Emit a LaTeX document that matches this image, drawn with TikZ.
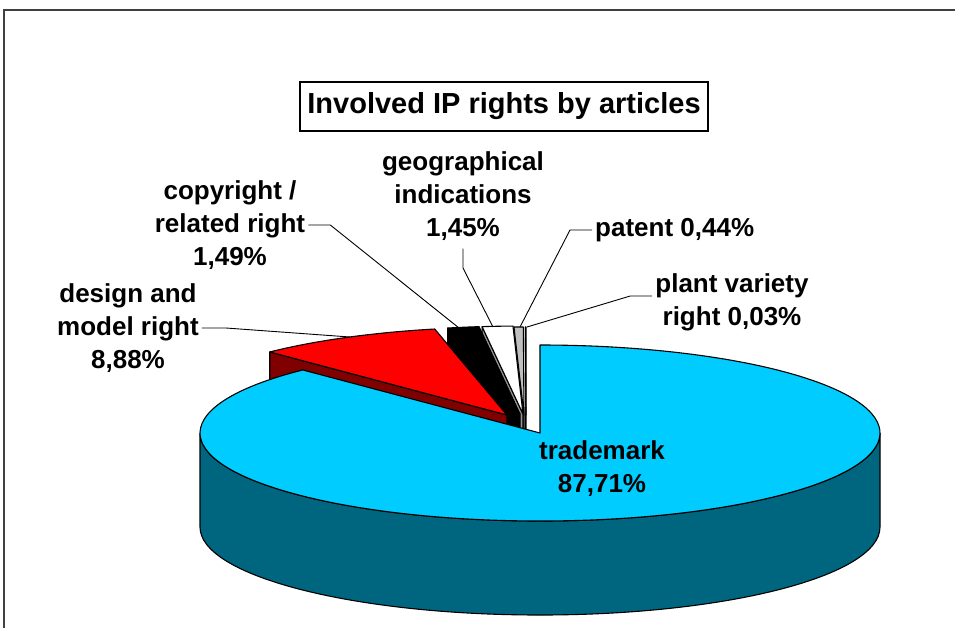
\documentclass[tikz,border=0pt]{standalone}
\usepackage{fontspec}
\setmainfont{Liberation Sans}
\definecolor{tmTop}{RGB}{0,204,255}
\definecolor{tmSide}{RGB}{0,102,128}
\definecolor{dsSide}{RGB}{128,0,0}
\definecolor{ptTop}{RGB}{192,192,192}
\definecolor{ptSide}{RGB}{96,96,96}
\definecolor{giSide}{RGB}{150,150,150}

\tikzstyle{slice}=[draw=black, line width=1.1pt, line join=round]
\tikzstyle{lbl}=[font=\fontsize{26}{33}\selectfont\bfseries, align=center, inner sep=3pt]
\tikzstyle{leader}=[draw=black, line width=0.9pt]

\begin{document}
\begin{tikzpicture}[x=1pt, y=1pt]
            \useasboundingbox (0,0) rectangle (955,-627);
            % frame
            \draw[line width=2pt, black!75] (4,-640) -- (4,-9.5) -- (970,-9.5);
            \node[draw, line width=1.1pt, fill=white, font=\fontsize{29}{35}\selectfont\bfseries, minimum width=408pt, minimum height=49pt, inner sep=0pt] at (504,-106.5) (title) {Involved IP rights by articles};
            % pulled out slices, back to front
            \filldraw[slice, fill=white] (526,-415) -- ++(90.108:340pt and 88pt) -- ++(0,-94) -- (526,-509) -- cycle;
            \filldraw[slice, fill=white] (526,-415) -- ++(90:340pt and 88pt) arc[start angle=90, end angle=90.108, x radius=340pt, y radius=88pt] -- cycle;
            \filldraw[slice, fill=ptSide] (524,-415) -- ++(91.692:340pt and 88pt) -- ++(0,-94) -- (524,-509) -- cycle;
            \filldraw[slice, fill=ptTop] (524,-415) -- ++(90.108:340pt and 88pt) arc[start angle=90.108, end angle=91.692, x radius=340pt, y radius=88pt] -- cycle;
            \filldraw[slice, fill=giSide] (523,-414) -- ++(96.912:340pt and 88pt) -- ++(0,-94) -- (523,-508) -- cycle;
            \filldraw[slice, fill=white] (523,-414) -- ++(91.692:340pt and 88pt) arc[start angle=91.692, end angle=96.912, x radius=340pt, y radius=88pt] -- cycle;
            \filldraw[slice, fill=black] (520,-414) -- ++(102.276:340pt and 88pt) -- ++(0,-94) -- (520,-508) -- cycle;
            \filldraw[slice, fill=black] (520,-414) -- ++(96.912:340pt and 88pt) arc[start angle=96.912, end angle=102.276, x radius=340pt, y radius=88pt] -- cycle;
            \filldraw[slice, fill=dsSide] (507,-415) -- ++(134.244:340pt and 88pt) -- ++(0,-94) -- (507,-509) -- cycle;
            \filldraw[slice, fill=red] (507,-415) -- ++(102.276:340pt and 88pt) arc[start angle=102.276, end angle=134.244, x radius=340pt, y radius=88pt] -- cycle;
            % trademark
            \filldraw[slice, fill=tmSide] (200,-433) arc[start angle=180, end angle=360, x radius=340pt, y radius=88pt] -- ++(0,-94) arc[start angle=360, end angle=180, x radius=340pt, y radius=88pt] -- cycle;
            \filldraw[slice, fill=tmTop] (540,-433) -- ++(134.244:340pt and 88pt) arc[start angle=134.244, end angle=450, x radius=340pt, y radius=88pt] -- cycle;
            % labels
            \node[lbl] at (602,-469) (tmLbl) {trademark\\87,71\%};
            \node[lbl] at (128,-328) (dsLbl) {design and\\model right\\8,88\%};
            \node[lbl] at (230,-225) (crLbl) {copyright /\\related right\\1,49\%};
            \node[lbl] at (463,-196) (giLbl) {geographical\\indications\\1,45\%};
            \node[lbl, anchor=west] at (592,-230) (ptLbl) {patent 0,44\%};
            \node[lbl] at (732,-302) (pvLbl) {plant variety\\right 0,03\%};
            \coordinate (dsTip) at (350,-337);
            \coordinate (crTip) at (459,-328);
            \coordinate (giBend) at (463,-268);
            \coordinate (giTip) at (493,-327);
            \coordinate (ptTip) at (520,-327);
            \coordinate (pvTip) at (527,-327);
            \draw[leader] (dsLbl.east) -- ++(24,0) -- (dsTip);
            \draw[leader] (crLbl.east) -- ++(22,0) -- (crTip);
            \draw[leader] ([yshift=-5pt]giLbl.south) -- (giBend) -- (giTip);
            \draw[leader] (ptLbl.west) -- ++(-22,0) -- (ptTip);
            \draw[leader] ([yshift=6pt]pvLbl.west) -- ++(-22,0) -- (pvTip);
        \end{tikzpicture}
\end{document}
